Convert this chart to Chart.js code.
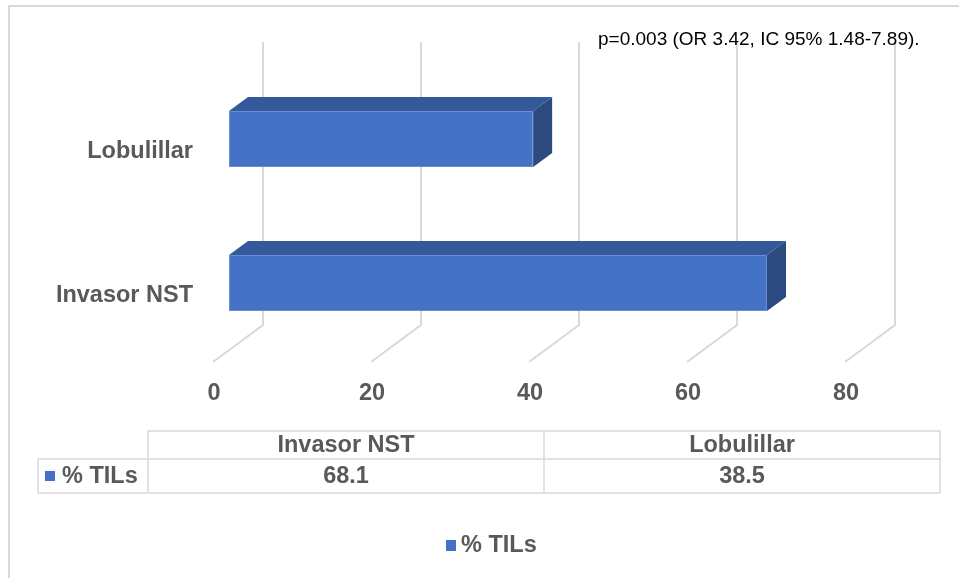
<!DOCTYPE html>
<html>
<head>
<meta charset="utf-8">
<style>
  html, body { margin: 0; padding: 0; background: #ffffff; }
  #wrap { width: 959px; height: 578px; position: relative; }
</style>
<script src="https://cdn.jsdelivr.net/npm/chart.js@4/dist/chart.umd.min.js"></script>
</head>
<body>
<div id="wrap"><canvas id="c"></canvas></div>
<script>
// Categories and values
const categories = ['Invasor NST', 'Lobulillar'];
const seriesName = '% TILs';
const tilValues = [68.1, 38.5];
const xTicks = [0, 20, 40, 60, 80];
const valueLabels = ['68.1', '38.5'];
const noteText = 'p=0.003 (OR 3.42, IC 95% 1.48-7.89).';

const FONT = '"Liberation Sans", Arial, Helvetica, sans-serif';
const BOLD = 'bold 23.5px ' + FONT;
const TEXT = '#595959';
const GRID = '#D9D9D9';
const FRONT = '#4472C4';
const TOP = '#34599A';
const SIDE = '#2A4A80';

// depth geometry of the 3D box (floor front -> bar front -> bar back -> back wall)
const BAR_FRONT = { dx: 16, dy: 12 };
const BAR_DEPTH = { dx: 19, dy: 14 };
const WALL = { dx: 34, dy: -25 };   // back wall relative to bar front plane

const threeD = {
  id: 'threeD',
  beforeDatasetsDraw(chart) {
    const ctx = chart.ctx;
    const xs = chart.scales.x;
    const area = chart.chartArea;
    ctx.save();
    // outer frame
    ctx.strokeStyle = GRID;
    ctx.lineWidth = 2;
    ctx.beginPath();
    ctx.moveTo(9, 580);
    ctx.lineTo(9, 6);
    ctx.lineTo(962, 6);
    ctx.stroke();

    // back-wall gridlines and floor diagonals
    const wallTop = area.top - 25;
    const wallBottom = area.bottom - 30;
    const floorFront = area.bottom + 7;
    ctx.strokeStyle = GRID;
    ctx.lineWidth = 2;
    xTicks.forEach(v => {
      const px = xs.getPixelForValue(v);
      ctx.beginPath();
      ctx.moveTo(px + WALL.dx, wallTop);
      ctx.lineTo(px + WALL.dx, wallBottom);
      ctx.lineTo(px - BAR_FRONT.dx, floorFront);
      ctx.stroke();
    });

    // tick labels
    ctx.fillStyle = TEXT;
    ctx.font = BOLD;
    ctx.textAlign = 'center';
    ctx.textBaseline = 'middle';
    xTicks.forEach(v => {
      const px = xs.getPixelForValue(v);
      ctx.fillText(String(v), px - BAR_FRONT.dx + 1, 394);
    });

    // category labels
    const ys = chart.scales.y;
    ctx.textAlign = 'right';
    categories.forEach((c, i) => {
      ctx.fillText(c, 193, ys.getPixelForValue(i) + 13);
    });

    // note
    ctx.font = '19px ' + FONT;
    ctx.textAlign = 'left';
    ctx.fillStyle = '#000000';
    ctx.fillText(noteText, 598, 40);

    // data table
    const colX = [38, 148, 544, 940];
    const rowY = [431, 459, 493];
    ctx.strokeStyle = GRID;
    ctx.lineWidth = 1.5;
    ctx.beginPath();
    ctx.moveTo(colX[1], rowY[0]); ctx.lineTo(colX[3], rowY[0]);
    ctx.moveTo(colX[0], rowY[1]); ctx.lineTo(colX[3], rowY[1]);
    ctx.moveTo(colX[0], rowY[2]); ctx.lineTo(colX[3], rowY[2]);
    ctx.moveTo(colX[0], rowY[1]); ctx.lineTo(colX[0], rowY[2]);
    ctx.moveTo(colX[1], rowY[0]); ctx.lineTo(colX[1], rowY[2]);
    ctx.moveTo(colX[2], rowY[0]); ctx.lineTo(colX[2], rowY[2]);
    ctx.moveTo(colX[3], rowY[0]); ctx.lineTo(colX[3], rowY[2]);
    ctx.stroke();

    ctx.fillStyle = TEXT;
    ctx.font = BOLD;
    ctx.textAlign = 'center';
    categories.forEach((c, i) => {
      const cx = (colX[i + 1] + colX[i + 2]) / 2;
      ctx.fillText(c, cx, 446);
      ctx.fillText(valueLabels[i], cx, 477);
    });
    ctx.fillStyle = FRONT;
    ctx.fillRect(45, 471, 10, 10);
    ctx.fillStyle = TEXT;
    ctx.textAlign = 'left';
    ctx.fillText(seriesName, 62, 477);

    // legend
    ctx.fillStyle = FRONT;
    ctx.fillRect(446, 540, 10, 11);
    ctx.fillStyle = TEXT;
    ctx.fillText(seriesName, 461, 546);
    ctx.restore();
  },
  afterDatasetsDraw(chart) {
    const ctx = chart.ctx;
    const meta = chart.getDatasetMeta(0);
    ctx.save();
    meta.data.forEach(bar => {
      const p = bar.getProps(['x', 'y', 'base', 'height'], true);
      const left = p.base, right = p.x;
      const top = p.y - p.height / 2, bottom = p.y + p.height / 2;
      const dx = BAR_DEPTH.dx, dy = BAR_DEPTH.dy;
      // top face
      ctx.fillStyle = TOP;
      ctx.beginPath();
      ctx.moveTo(left, top);
      ctx.lineTo(left + dx, top - dy);
      ctx.lineTo(right + dx, top - dy);
      ctx.lineTo(right, top);
      ctx.closePath();
      ctx.fill();
      // side face
      ctx.fillStyle = SIDE;
      ctx.beginPath();
      ctx.moveTo(right, top);
      ctx.lineTo(right + dx, top - dy);
      ctx.lineTo(right + dx, bottom - dy);
      ctx.lineTo(right, bottom);
      ctx.closePath();
      ctx.fill();
    });
    ctx.restore();
  }
};

new Chart(document.getElementById('c'), {
  type: 'bar',
  data: {
    labels: categories,
    datasets: [{
      label: seriesName,
      data: tilValues,
      backgroundColor: FRONT,
      borderColor: '#6A8ED3',
      borderWidth: 1,
      borderSkipped: false,
      categoryPercentage: 1,
      barPercentage: 56 / 144
    }]
  },
  options: {
    indexAxis: 'y',
    responsive: true,
    maintainAspectRatio: false,
    animation: false,
    layout: { padding: { left: 229, right: 98, top: 67, bottom: 223 } },
    scales: {
      x: { min: 0, max: 80, display: false },
      y: { reverse: true, display: false }
    },
    plugins: { legend: { display: false }, tooltip: { enabled: false } }
  },
  plugins: [threeD]
});
</script>
</body>
</html>
